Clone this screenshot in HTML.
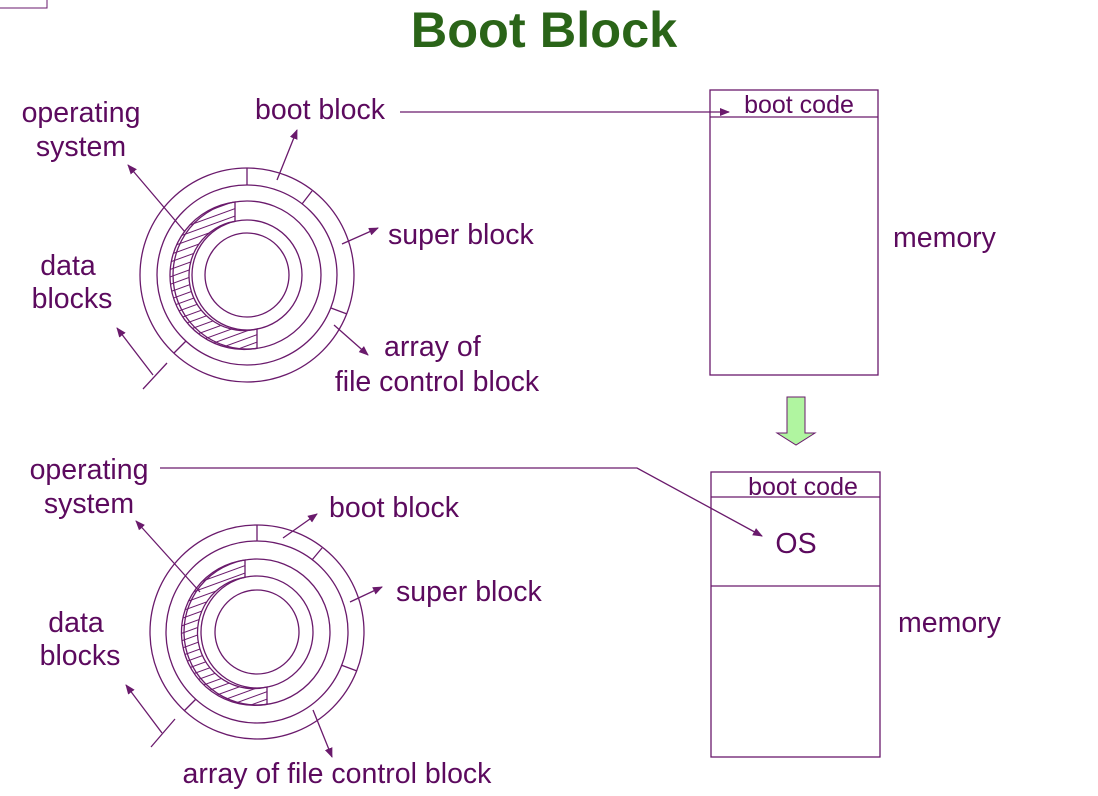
<!DOCTYPE html>
<html><head><meta charset="utf-8"><style>
body{margin:0;background:#fff}
svg{display:block}
text{font-family:"Liberation Sans",Arial,sans-serif;fill:#5c0a5e;font-size:28.5px}
</style></head><body>
<svg width="1098" height="796" viewBox="0 0 1098 796" xmlns="http://www.w3.org/2000/svg">
<defs>
<marker id="a" markerWidth="10" markerHeight="10" refX="9" refY="5" orient="auto" markerUnits="userSpaceOnUse" viewBox="0 0 10 10"><path d="M0,1 L10,5 L0,9 z" fill="#6a1a6c"/></marker>
<pattern id="h" width="7" height="7" patternUnits="userSpaceOnUse" patternTransform="rotate(-20)"><line x1="0" y1="3.5" x2="7" y2="3.5" stroke="#6a1a6c" stroke-width="1"/></pattern>
</defs>
<path d="M0,8 H47 V0" fill="none" stroke="#6a1a6c" stroke-width="1"/>
<text x="544" y="47" text-anchor="middle" style="font-size:50.5px;font-weight:bold;fill:#2a6418">Boot Block</text>

<g stroke="#6a1a6c" stroke-width="1.3" fill="none">
<g transform="translate(247,275)">
<circle r="107"/><circle r="90"/><circle r="74"/><circle r="55"/><circle r="42"/>
<path d="M-12,-73 A74,74 0 1 0 10,73.3 L10,54 A55,55 0 1 1 -12,-53.7 Z" fill="url(#h)"/>
<line x1="0" y1="-107" x2="0" y2="-90"/>
<line x1="55" y1="-71" x2="65" y2="-84"/>
<line x1="84" y1="33" x2="100" y2="39"/>
<line x1="-61" y1="66" x2="-73" y2="78"/>
</g>
<line x1="185" y1="232" x2="128" y2="165" marker-end="url(#a)"/>
<line x1="277" y1="180" x2="297" y2="130" marker-end="url(#a)"/>
<line x1="342" y1="244" x2="378" y2="228" marker-end="url(#a)"/>
<line x1="334" y1="325" x2="368" y2="355" marker-end="url(#a)"/>
<line x1="153" y1="375" x2="117" y2="328" marker-end="url(#a)"/>
<line x1="143" y1="389" x2="167" y2="363"/>
<line x1="400" y1="112" x2="729" y2="112" marker-end="url(#a)"/>
<rect x="710" y="90" width="168" height="285"/>
<line x1="710" y1="117" x2="878" y2="117"/>

<g transform="translate(257,632)">
<circle r="107"/><circle r="91"/><circle r="73"/><circle r="56"/><circle r="42"/>
<path d="M-12,-72 A73,73 0 1 0 10,72.3 L10,55 A56,56 0 1 1 -12,-54.7 Z" fill="url(#h)"/>
<line x1="0" y1="-107" x2="0" y2="-91"/>
<line x1="55" y1="-72" x2="65" y2="-84"/>
<line x1="84" y1="33" x2="100" y2="39"/>
<line x1="-61" y1="67" x2="-73" y2="79"/>
</g>
<line x1="200" y1="592" x2="136" y2="521" marker-end="url(#a)"/>
<line x1="283" y1="538" x2="317" y2="514" marker-end="url(#a)"/>
<line x1="350" y1="602" x2="382" y2="587" marker-end="url(#a)"/>
<line x1="313" y1="710" x2="332" y2="757" marker-end="url(#a)"/>
<line x1="162" y1="733" x2="126" y2="685" marker-end="url(#a)"/>
<line x1="151" y1="747" x2="175" y2="719"/>
<polyline points="160,468 637,468 762,536" marker-end="url(#a)"/>
<rect x="711" y="472" width="169" height="285"/>
<line x1="711" y1="497" x2="880" y2="497"/>
<line x1="711" y1="586" x2="880" y2="586"/>
</g>
<path d="M787,397 H805 V433 H815 L796,445 L777,433 H787 Z" fill="#b0f5a0" stroke="#6a1a6c" stroke-width="1"/>

<text x="81" y="122" text-anchor="middle">operating</text>
<text x="81" y="156" text-anchor="middle">system</text>
<text x="320" y="119" text-anchor="middle">boot block</text>
<text x="68" y="275" text-anchor="middle">data</text>
<text x="72" y="308" text-anchor="middle">blocks</text>
<text x="388" y="244">super block</text>
<text x="384" y="356">array of</text>
<text x="437" y="391" text-anchor="middle">file control block</text>
<text x="799" y="113" text-anchor="middle" style="font-size:25px">boot code</text>
<text x="893" y="247">memory</text>

<text x="89" y="479" text-anchor="middle">operating</text>
<text x="89" y="513" text-anchor="middle">system</text>
<text x="394" y="517" text-anchor="middle">boot block</text>
<text x="76" y="632" text-anchor="middle">data</text>
<text x="80" y="665" text-anchor="middle">blocks</text>
<text x="396" y="601">super block</text>
<text x="337" y="783" text-anchor="middle">array of file control block</text>
<text x="803" y="495" text-anchor="middle" style="font-size:25px">boot code</text>
<text x="796" y="553" text-anchor="middle">OS</text>
<text x="898" y="632">memory</text>
</svg>
</body></html>
